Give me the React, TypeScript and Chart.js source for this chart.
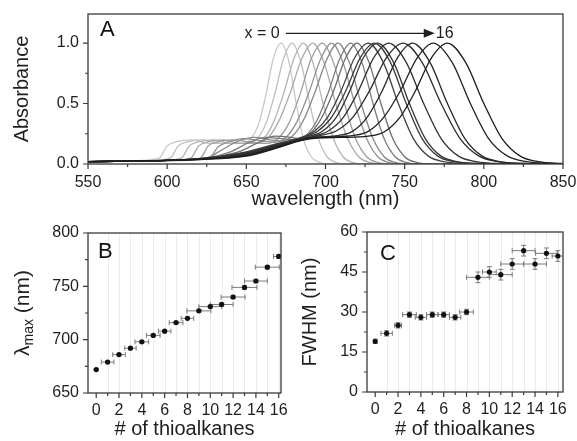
import React, { useEffect, useRef } from 'react';
import { Chart, registerables } from 'chart.js';

Chart.register(...registerables);

const FONT = '"Liberation Sans", Arial, Helvetica, sans-serif';
const INK = '#1e1e1e';

// ---------- Panel A: normalized absorbance spectra, x = 0 ... 16 ----------
const wavelengthTicks = [550, 600, 650, 700, 750, 800, 850];
const wavelengthMinor = [575, 625, 675, 725, 775, 825];
const absorbanceTicks = [0, 0.5, 1.0];
const absorbanceMinor = [0.25, 0.75];

const spec0 = [[550,0.02],[585,0.03],[595,0.05],[600,0.15],[605,0.18],[615,0.2],[627,0.17],[648,0.17],[653,0.21],[658,0.34],[662.5,0.58],[667,0.87],[672,1],[677,0.84],[681.5,0.5],[686,0.21],[691,0.06],[696,0.013],[702,0],[850,0]];
const spec1 = [[550,0.02],[592,0.03],[602,0.05],[607,0.15],[612,0.18],[622,0.2],[634,0.17],[651.5,0.17],[657,0.21],[662.5,0.34],[668,0.58],[673.5,0.87],[679,1],[684.5,0.84],[690,0.5],[695.5,0.21],[701,0.06],[706.5,0.013],[714,0],[850,0]];
const spec2 = [[550,0.02],[599,0.03],[609,0.05],[614,0.15],[619,0.18],[629,0.2],[641,0.17],[655,0.17],[661,0.21],[667,0.34],[673.5,0.58],[680,0.87],[686,1],[692,0.84],[698.5,0.5],[705,0.21],[711,0.06],[717,0.013],[726,0],[850,0]];
const spec3 = [[550,0.02],[605,0.03],[615,0.05],[620,0.15],[625,0.18],[635,0.2],[647,0.17],[656,0.17],[663,0.21],[670,0.34],[677.5,0.58],[685,0.87],[692,1],[699,0.84],[706.5,0.5],[714,0.21],[721,0.06],[728,0.013],[738,0],[850,0]];
const spec4 = [[550,0.02],[611,0.03],[621,0.05],[626,0.15],[631,0.18],[641,0.2],[653,0.18],[663,0.17],[670,0.21],[677,0.34],[684,0.58],[691,0.87],[698,1],[705,0.84],[712,0.5],[719,0.21],[726,0.06],[733,0.013],[743,0],[850,0]];
const spec5 = [[550,0.02],[615,0.03],[627,0.05],[632,0.14],[638,0.18],[648,0.21],[660,0.19],[668,0.18],[675,0.22],[682,0.35],[689.5,0.59],[697,0.87],[704,1],[711,0.84],[718.5,0.5],[726,0.21],[733,0.06],[740,0.013],[750,0],[850,0]];
const spec6 = [[550,0.02],[605,0.03],[625,0.05],[635,0.12],[645,0.19],[655,0.22],[665,0.2],[672,0.19],[679,0.23],[686,0.36],[693.5,0.6],[701,0.87],[708,1],[715,0.84],[722.5,0.5],[730,0.21],[737,0.06],[744,0.013],[754,0],[850,0]];
const spec7 = [[550,0.02],[600,0.03],[625,0.05],[640,0.1],[652,0.18],[662,0.22],[672,0.21],[681,0.2],[688,0.24],[695,0.37],[702,0.6],[709,0.87],[716,1],[723,0.84],[730,0.5],[737,0.21],[744,0.06],[751,0.013],[761,0],[850,0]];
const spec8 = [[550,0.02],[600,0.03],[625,0.05],[645,0.1],[658,0.18],[668,0.23],[678,0.22],[683,0.21],[690,0.25],[697.5,0.38],[705,0.6],[712.5,0.87],[720,1],[727.5,0.84],[735,0.5],[742.5,0.21],[750,0.06],[757.5,0.013],[768,0],[850,0]];
const spec9 = [[550,0.02],[600,0.03],[625,0.05],[650,0.1],[670,0.17],[684.5,0.22],[693,0.27],[701.5,0.39],[710,0.61],[718.5,0.88],[727,1],[736.5,0.84],[746,0.5],[755.5,0.21],[765,0.065],[774.5,0.02],[788,0.004],[850,0]];
const spec10 = [[550,0.02],[600,0.03],[625,0.048],[650,0.095],[670,0.165],[686,0.22],[695,0.27],[704,0.39],[713,0.61],[722,0.88],[731,1],[741,0.84],[751,0.5],[761,0.21],[771,0.065],[781,0.02],[795,0.004],[850,0]];
const spec11 = [[550,0.02],[600,0.03],[625,0.046],[650,0.09],[670,0.16],[689,0.225],[698,0.27],[707,0.39],[715.5,0.61],[724,0.88],[733,1],[743,0.84],[753,0.5],[763,0.21],[773,0.065],[783,0.02],[797,0.004],[850,0]];
const spec12 = [[550,0.02],[600,0.03],[625,0.045],[650,0.085],[670,0.155],[685,0.205],[692.5,0.23],[702,0.275],[711.5,0.39],[721,0.61],[730.5,0.88],[740,1],[751,0.84],[762,0.5],[773,0.21],[784,0.065],[795,0.02],[810,0.004],[850,0]];
const spec13 = [[550,0.02],[600,0.03],[625,0.044],[650,0.08],[670,0.15],[685,0.205],[696.5,0.235],[707,0.275],[717.5,0.39],[728,0.61],[738.5,0.88],[749,1],[761,0.84],[773,0.5],[785,0.21],[797,0.065],[809,0.02],[826,0.004],[850,0]];
const spec14 = [[550,0.02],[600,0.03],[625,0.043],[650,0.075],[670,0.145],[685,0.2],[695,0.222],[707.5,0.235],[717,0.27],[726.5,0.39],[736,0.61],[745.5,0.88],[755,1],[766,0.84],[777,0.5],[788,0.21],[799,0.065],[810,0.02],[825,0.004],[850,0]];
const spec15 = [[550,0.02],[600,0.03],[625,0.042],[650,0.07],[670,0.14],[685,0.2],[695,0.22],[705,0.225],[717,0.235],[727,0.27],[737,0.39],[747.5,0.61],[758,0.88],[768,1],[780,0.84],[791.5,0.5],[803,0.21],[815,0.065],[827,0.02],[843,0.004],[850,0]];
const spec16 = [[550,0.02],[600,0.03],[625,0.04],[650,0.065],[670,0.135],[685,0.195],[695,0.215],[710,0.22],[727,0.23],[737,0.265],[747,0.385],[757,0.61],[767,0.88],[777,1],[788.5,0.84],[800,0.5],[811.5,0.21],[823,0.065],[834.5,0.02],[850,0.004]];

const spectra = [spec0, spec1, spec2, spec3, spec4, spec5, spec6, spec7, spec8, spec9, spec10, spec11, spec12, spec13, spec14, spec15, spec16];
const spectraGray = ['#c8c8c8','#bebebe','#b4b4b4','#a9a9a9','#9e9e9e','#939393','#878787','#7b7b7b','#6e6e6e','#404040','#3b3b3b','#363636','#313131','#2c2c2c','#272727','#222222','#1c1c1c'];

// ---------- Panels B and C ----------
const thioalkanes = [0, 1, 2, 3, 4, 5, 6, 7, 8, 9, 10, 11, 12, 13, 14, 15, 16];
const lambdaMax = [672, 679, 686, 692, 698, 704, 708, 716, 720, 727, 731, 733, 740, 749, 755, 768, 778];
const lambdaXErr = [0, 0.55, 0.55, 0.5, 0.6, 0.6, 0.55, 0.6, 0.55, 1.05, 1.0, 1.0, 1.05, 1.1, 1.0, 1.05, 0.45];
const lambdaYErr = [0.8, 1, 1, 1, 1, 1, 1, 1, 1, 1.2, 1.2, 1.2, 1.5, 1.5, 1.5, 1.5, 1.5];
const fwhm = [19, 22, 25, 29, 28, 29, 29, 28, 30, 43, 45, 44, 48, 53, 48, 52, 51];
const fwhmXErr = [0, 0.5, 0.3, 0.6, 0.5, 0.5, 0.5, 0.5, 0.6, 1.0, 0.6, 1.0, 1.0, 1.0, 1.0, 0.95, 0.5];
const fwhmYErr = [0.8, 1, 1, 1, 1, 1, 1, 1, 1, 2, 2, 2, 2, 2, 2, 2, 2];

const thioTicks = [0, 2, 4, 6, 8, 10, 12, 14, 16];
const thioMinor = [1, 3, 5, 7, 9, 11, 13, 15];
const lambdaTicks = [650, 700, 750, 800];
const lambdaMinor = [675, 725, 775];
const fwhmTicks = [0, 15, 30, 45, 60];
const fwhmMinor = [7.5, 22.5, 37.5, 52.5];

type AxisOpts = {
  min: number; max: number; ticks: number[]; gap: number;
  width?: number; height?: number; fmt?: (v: number) => string;
  title?: string; titlePad?: any;
};

function makeAxis(o: AxisOpts) {
  return {
    type: 'linear',
    bounds: 'data',
    min: o.min,
    max: o.max,
    afterBuildTicks: (a: any) => { a.ticks = o.ticks.map((v) => ({ value: v })); },
    afterFit: (s: any) => {
      if (o.width != null) s.width = o.width;
      if (o.height != null) s.height = o.height;
    },
    grid: { display: false, drawTicks: true, tickLength: o.gap },
    border: { display: false },
    ticks: {
      padding: 0, color: INK, font: { family: FONT, size: 16 },
      maxRotation: 0, minRotation: 0, autoSkip: false,
      callback: (v: any) => (o.fmt ? o.fmt(Number(v)) : String(v)),
    },
    title: o.title
      ? { display: true, text: o.title, color: INK, font: { family: FONT, size: 20 }, padding: o.titlePad }
      : { display: false },
  };
}

type FrameCfg = {
  id: string;
  xMajor: number[]; xMinor: number[]; yMajor: number[]; yMinor: number[];
  vgrid?: number[];
  letter: string; letterDx: number; letterDy: number;
  extra?: (chart: any) => void;
};

function framePlugin(cfg: FrameCfg) {
  return {
    id: cfg.id,
    beforeDatasetsDraw(chart: any) {
      if (!cfg.vgrid) return;
      const { ctx, chartArea: ca } = chart;
      const x = chart.scales.x;
      ctx.save();
      ctx.strokeStyle = '#ececec';
      ctx.lineWidth = 1;
      ctx.beginPath();
      cfg.vgrid.forEach((v) => {
        const px = Math.round(x.getPixelForValue(v)) + 0.5;
        ctx.moveTo(px, ca.top);
        ctx.lineTo(px, ca.bottom);
      });
      ctx.stroke();
      ctx.restore();
    },
    afterDraw(chart: any) {
      const { ctx, chartArea: ca } = chart;
      const x = chart.scales.x;
      const y = chart.scales.y;
      ctx.save();
      ctx.strokeStyle = '#3a3a3a';
      ctx.lineWidth = 1.3;
      ctx.strokeRect(ca.left, ca.top, ca.right - ca.left, ca.bottom - ca.top);
      ctx.lineWidth = 1.2;
      ctx.beginPath();
      cfg.xMajor.forEach((v) => { const p = x.getPixelForValue(v); ctx.moveTo(p, ca.bottom); ctx.lineTo(p, ca.bottom + 5); });
      cfg.xMinor.forEach((v) => { const p = x.getPixelForValue(v); ctx.moveTo(p, ca.bottom); ctx.lineTo(p, ca.bottom + 3); });
      cfg.yMajor.forEach((v) => { const p = y.getPixelForValue(v); ctx.moveTo(ca.left, p); ctx.lineTo(ca.left - 5, p); });
      cfg.yMinor.forEach((v) => { const p = y.getPixelForValue(v); ctx.moveTo(ca.left, p); ctx.lineTo(ca.left - 3, p); });
      ctx.stroke();
      ctx.fillStyle = '#111';
      ctx.font = `22px ${FONT}`;
      ctx.textBaseline = 'top';
      ctx.textAlign = 'left';
      ctx.fillText(cfg.letter, ca.left + cfg.letterDx, ca.top + cfg.letterDy);
      if (cfg.extra) cfg.extra(chart);
      ctx.restore();
    },
  };
}

function errorBarPlugin(xs: number[], ys: number[], xe: number[], ye: number[]) {
  return {
    id: 'errorbars',
    beforeDatasetsDraw(chart: any) {
      const { ctx, chartArea: ca } = chart;
      const x = chart.scales.x;
      const y = chart.scales.y;
      ctx.save();
      ctx.beginPath();
      ctx.rect(ca.left, ca.top, ca.right - ca.left, ca.bottom - ca.top);
      ctx.clip();
      ctx.strokeStyle = '#7a7a7a';
      ctx.lineWidth = 1;
      ctx.beginPath();
      const cap = 2.5;
      xs.forEach((xv, i) => {
        const px = x.getPixelForValue(xv);
        const py = y.getPixelForValue(ys[i]);
        if (xe[i] > 0) {
          const l = x.getPixelForValue(xv - xe[i]);
          const r = x.getPixelForValue(xv + xe[i]);
          ctx.moveTo(l, py); ctx.lineTo(r, py);
          ctx.moveTo(l, py - cap); ctx.lineTo(l, py + cap);
          ctx.moveTo(r, py - cap); ctx.lineTo(r, py + cap);
        }
        if (ye[i] > 0) {
          const t = y.getPixelForValue(ys[i] + ye[i]);
          const b = y.getPixelForValue(ys[i] - ye[i]);
          ctx.moveTo(px, t); ctx.lineTo(px, b);
          ctx.moveTo(px - cap, t); ctx.lineTo(px + cap, t);
          ctx.moveTo(px - cap, b); ctx.lineTo(px + cap, b);
        }
      });
      ctx.stroke();
      ctx.restore();
    },
  };
}

function buildA() {
  const datasets = spectra.map((s, i) => ({
    data: s,
    borderColor: spectraGray[i],
    borderWidth: 1.3,
    pointRadius: 0,
    fill: false,
    cubicInterpolationMode: 'monotone',
    order: 16 - i,
  }));
  const annotation = (chart: any) => {
    const { ctx } = chart;
    const x = chart.scales.x;
    const y = chart.scales.y;
    const yy = y.getPixelForValue(1.08);
    ctx.fillStyle = INK;
    ctx.strokeStyle = INK;
    ctx.font = `16px ${FONT}`;
    ctx.textBaseline = 'middle';
    ctx.textAlign = 'right';
    ctx.fillText('x = 0', x.getPixelForValue(671), yy);
    const x1 = x.getPixelForValue(675);
    const x2 = x.getPixelForValue(769);
    ctx.lineWidth = 1.2;
    ctx.beginPath();
    ctx.moveTo(x1, yy);
    ctx.lineTo(x2 - 8, yy);
    ctx.stroke();
    ctx.beginPath();
    ctx.moveTo(x2, yy);
    ctx.lineTo(x2 - 11, yy - 4.5);
    ctx.lineTo(x2 - 11, yy + 4.5);
    ctx.closePath();
    ctx.fill();
    ctx.textAlign = 'left';
    ctx.fillText('16', x2 + 1, yy);
  };
  return {
    type: 'line',
    data: { datasets },
    options: {
      responsive: false,
      animation: false,
      events: [],
      layout: { padding: { left: 0, top: 14, right: 14, bottom: 0 } },
      plugins: { legend: { display: false }, tooltip: { enabled: false } },
      scales: {
        x: makeAxis({ min: 550, max: 850, ticks: wavelengthTicks, gap: 9, height: 51, title: 'wavelength (nm)', titlePad: { top: 0, bottom: 4 } }),
        y: makeAxis({ min: 0, max: 1.24, ticks: absorbanceTicks, gap: 9, width: 88, fmt: (v) => v.toFixed(1), title: 'Absorbance', titlePad: { top: 10, bottom: 0 } }),
      },
    },
    plugins: [framePlugin({
      id: 'frameA', xMajor: wavelengthTicks, xMinor: wavelengthMinor, yMajor: absorbanceTicks, yMinor: absorbanceMinor,
      letter: 'A', letterDx: 12, letterDy: 5, extra: annotation,
    })],
  };
}

function buildB() {
  const lambdaTitle = {
    id: 'lambdaTitle',
    afterDraw(chart: any) {
      const { ctx, chartArea: ca } = chart;
      ctx.save();
      ctx.fillStyle = INK;
      const cy = (ca.top + ca.bottom) / 2;
      ctx.translate(22, cy);
      ctx.rotate(-Math.PI / 2);
      const big = `21px ${FONT}`;
      const small = `14px ${FONT}`;
      ctx.font = big; const w1 = ctx.measureText('\u03bb').width;
      ctx.font = small; const w2 = ctx.measureText('max').width;
      ctx.font = big; const w3 = ctx.measureText(' (nm)').width;
      let sx = -(w1 + w2 + w3) / 2;
      ctx.textBaseline = 'alphabetic';
      ctx.textAlign = 'left';
      ctx.font = big; ctx.fillText('\u03bb', sx, 7); sx += w1;
      ctx.font = small; ctx.fillText('max', sx, 11); sx += w2;
      ctx.font = big; ctx.fillText(' (nm)', sx, 7);
      ctx.restore();
    },
  };
  return {
    type: 'scatter',
    data: {
      datasets: [{
        data: thioalkanes.map((t, i) => ({ x: t, y: lambdaMax[i] })),
        backgroundColor: '#111',
        borderColor: '#111',
        pointRadius: 2.6,
        borderWidth: 0,
      }],
    },
    options: {
      responsive: false,
      animation: false,
      events: [],
      layout: { padding: { left: 0, top: 18, right: 9, bottom: 0 } },
      plugins: { legend: { display: false }, tooltip: { enabled: false } },
      scales: {
        x: makeAxis({ min: -0.72, max: 16.2, ticks: thioTicks, gap: 8, height: 48, title: '# of thioalkanes', titlePad: { top: 0, bottom: 0 } }),
        y: makeAxis({ min: 650, max: 800, ticks: lambdaTicks, gap: 9, width: 88 }),
      },
    },
    plugins: [
      framePlugin({
        id: 'frameB', xMajor: thioTicks, xMinor: thioMinor, yMajor: lambdaTicks, yMinor: lambdaMinor,
        vgrid: thioalkanes.slice(1), letter: 'B', letterDx: 10, letterDy: 8,
      }),
      errorBarPlugin(thioalkanes, lambdaMax, lambdaXErr, lambdaYErr),
      lambdaTitle,
    ],
  };
}

function buildC() {
  return {
    type: 'scatter',
    data: {
      datasets: [{
        data: thioalkanes.map((t, i) => ({ x: t, y: fwhm[i] })),
        backgroundColor: '#111',
        borderColor: '#111',
        pointRadius: 2.6,
        borderWidth: 0,
      }],
    },
    options: {
      responsive: false,
      animation: false,
      events: [],
      layout: { padding: { left: 0, top: 17, right: 14, bottom: 0 } },
      plugins: { legend: { display: false }, tooltip: { enabled: false } },
      scales: {
        x: makeAxis({ min: -0.72, max: 16.45, ticks: thioTicks, gap: 8, height: 49, title: '# of thioalkanes', titlePad: { top: 0, bottom: 0 } }),
        y: makeAxis({ min: 0, max: 60, ticks: fwhmTicks, gap: 9, width: 80, title: 'FWHM (nm)', titlePad: { top: 11, bottom: 0 } }),
      },
    },
    plugins: [
      framePlugin({
        id: 'frameC', xMajor: thioTicks, xMinor: thioMinor, yMajor: fwhmTicks, yMinor: fwhmMinor,
        vgrid: thioalkanes.slice(1), letter: 'C', letterDx: 13, letterDy: 11,
      }),
      errorBarPlugin(thioalkanes, fwhm, fwhmXErr, fwhmYErr),
    ],
  };
}

function Panel(props: { left: number; top: number; width: number; height: number; build: () => any }) {
  const ref = useRef<HTMLCanvasElement | null>(null);
  useEffect(() => {
    if (!ref.current) return;
    const chart = new Chart(ref.current, props.build());
    return () => chart.destroy();
  }, []);
  return (
    <canvas
      ref={ref}
      width={props.width}
      height={props.height}
      style={{ position: 'absolute', left: props.left, top: props.top, width: props.width, height: props.height }}
    />
  );
}

export default function App() {
  return (
    <div style={{ position: 'fixed', left: 0, top: 0, width: 577, height: 441, background: '#fff', overflow: 'hidden' }}>
      <Panel left={0} top={0} width={577} height={215} build={buildA} />
      <Panel left={0} top={215} width={290} height={226} build={buildB} />
      <Panel left={287} top={215} width={290} height={226} build={buildC} />
    </div>
  );
}
